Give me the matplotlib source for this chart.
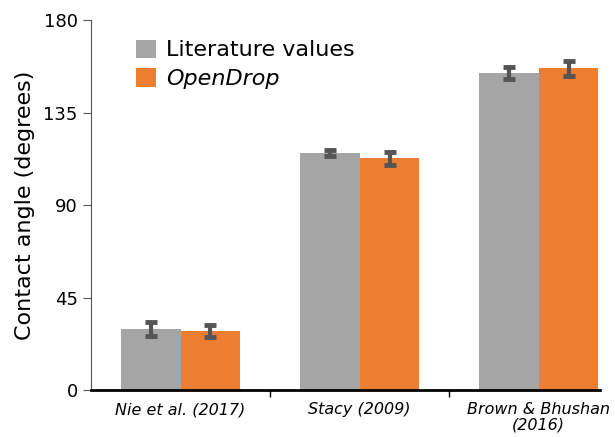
import matplotlib.pyplot as plt
import numpy as np

studies = ["Nie et al. (2017)", "Stacy (2009)", "Brown & Bhushan\n(2016)"]
literature = [29.7, 115.3, 154.2]
literature_err = [3.2, 1.5, 3.0]
opendrop = [28.7, 112.8, 156.6]
opendrop_err = [2.8, 3.2, 3.5]

GRAY = "#A5A5A5"
ORANGE = "#ED7D31"
ERR = "#555555"

plt.rcParams["font.family"] = "DejaVu Sans"

fig = plt.figure(figsize=(6.15, 4.37), dpi=100)
ax = fig.add_axes([0.148, 0.1076, 0.828, 0.846])

x = np.arange(len(studies))
w = 1 / 3
err_kw = dict(ecolor=ERR, elinewidth=3, capsize=4.5, capthick=3.5)
ax.bar(x - w / 2, literature, w, yerr=literature_err, color=GRAY,
       label="Literature values", error_kw=err_kw)
ax.bar(x + w / 2, opendrop, w, yerr=opendrop_err, color=ORANGE,
       label="OpenDrop", error_kw=err_kw)

ax.set_xlim(-0.5, 2 + w + 0.01)
ax.set_ylim(0, 180)
ax.set_yticks([0, 45, 90, 135, 180])
ax.tick_params(axis="y", labelsize=13, direction="out", length=6, color="#555555")
ax.set_ylabel("Contact angle (degrees)", fontsize=16, labelpad=6)

ax.set_xticks(x)
ax.set_xticklabels(studies, fontsize=11.5, style="italic", linespacing=1.0)
ax.set_xticks([0.5, 1.5], minor=True)
ax.tick_params(axis="x", which="major", length=0, pad=9)
ax.tick_params(axis="x", which="minor", length=5, width=1, color="black")

for s in ["top", "right"]:
    ax.spines[s].set_visible(False)
ax.spines["left"].set_color("#555555")
ax.spines["bottom"].set_linewidth(2)
ax.spines["bottom"].set_color("black")

leg = ax.legend(loc="upper left", bbox_to_anchor=(0.05, 1.002), frameon=False,
                fontsize=16, handlelength=0.9, handleheight=0.9, handletextpad=0.45,
                labelspacing=0.35)
leg.get_texts()[1].set_style("italic")

fig.savefig("out.png", dpi=100)
